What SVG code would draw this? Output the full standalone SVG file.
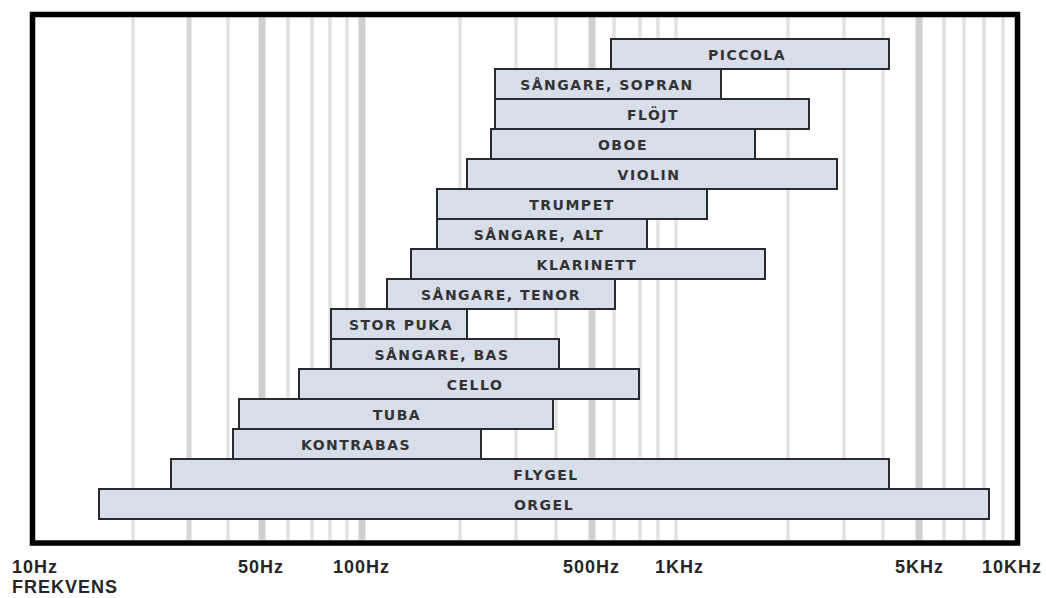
<svg xmlns="http://www.w3.org/2000/svg" width="1046" height="598" viewBox="0 0 1046 598">
<style>
.g1{stroke:#e2e2e2;stroke-width:3.5}
.g2{stroke:#d6d6d6;stroke-width:5}
.g3{stroke:#cfcfcf;stroke-width:7}
.bar{fill:#d7dde9;stroke:#262a31;stroke-width:2}
.bl{font-family:"DejaVu Sans",sans-serif;font-weight:bold;font-size:14px;letter-spacing:1.5px;fill:#333;text-anchor:middle}
.ax{font-family:"Liberation Sans",Arial,sans-serif;font-weight:bold;font-size:18px;letter-spacing:1px;fill:#262626}
</style>
<rect width="1046" height="598" fill="#fff"/>
<g id="grid">
<g class="g1">
<line x1="133" y1="17" x2="133" y2="540"/>
<line x1="228" y1="17" x2="228" y2="540"/>
<line x1="288" y1="17" x2="288" y2="540"/>
<line x1="312" y1="17" x2="312" y2="540"/>
<line x1="330" y1="17" x2="330" y2="540"/>
<line x1="347" y1="17" x2="347" y2="540"/>
<line x1="460" y1="17" x2="460" y2="540"/>
<line x1="516" y1="17" x2="516" y2="540"/>
<line x1="556" y1="17" x2="556" y2="540"/>
<line x1="614" y1="17" x2="614" y2="540"/>
<line x1="640" y1="17" x2="640" y2="540"/>
<line x1="658" y1="17" x2="658" y2="540"/>
<line x1="676" y1="17" x2="676" y2="540"/>
<line x1="788" y1="17" x2="788" y2="540"/>
<line x1="844" y1="17" x2="844" y2="540"/>
<line x1="883" y1="17" x2="883" y2="540"/>
<line x1="944" y1="17" x2="944" y2="540"/>
<line x1="964" y1="17" x2="964" y2="540"/>
<line x1="984" y1="17" x2="984" y2="540"/>
<line x1="1003" y1="17" x2="1003" y2="540"/>
</g>
<line class="g2" x1="189" y1="17" x2="189" y2="540"/>
<g class="g3">
<line x1="262" y1="17" x2="262" y2="540"/>
<line x1="362" y1="17" x2="362" y2="540"/>
<line x1="592" y1="17" x2="592" y2="540"/>
<line x1="919" y1="17" x2="919" y2="540"/>
</g>
</g>
<rect id="frame" x="32.5" y="14.5" width="985" height="528.5" fill="none" stroke="#000" stroke-width="5.5"/>
<g id="connectors"></g>
<g id="piccola"><rect class="bar" x="611" y="39" width="278" height="30"/><text class="bl" x="747" y="60">PICCOLA</text></g>
<g id="sopran"><rect class="bar" x="495" y="69" width="226" height="30"/><text class="bl" x="607" y="90">SÅNGARE, SOPRAN</text></g>
<g id="flojt"><rect class="bar" x="495" y="99" width="314" height="30"/><text class="bl" x="653" y="120">FLÖJT</text></g>
<g id="oboe"><rect class="bar" x="491" y="129" width="264" height="30"/><text class="bl" x="623" y="150">OBOE</text></g>
<g id="violin"><rect class="bar" x="467" y="159" width="370" height="30"/><text class="bl" x="649" y="180">VIOLIN</text></g>
<g id="trumpet"><rect class="bar" x="437" y="189" width="270" height="30"/><text class="bl" x="572" y="210">TRUMPET</text></g>
<g id="alt"><rect class="bar" x="437" y="219" width="210" height="30"/><text class="bl" x="539" y="240">SÅNGARE, ALT</text></g>
<g id="klarinett"><rect class="bar" x="411" y="249" width="354" height="30"/><text class="bl" x="587" y="270">KLARINETT</text></g>
<g id="tenor"><rect class="bar" x="387" y="279" width="228" height="30"/><text class="bl" x="501" y="300">SÅNGARE, TENOR</text></g>
<g id="storpuka"><rect class="bar" x="331" y="309" width="136" height="30"/><text class="bl" x="401" y="330">STOR PUKA</text></g>
<g id="bas"><rect class="bar" x="331" y="339" width="228" height="30"/><text class="bl" x="442" y="360">SÅNGARE, BAS</text></g>
<g id="cello"><rect class="bar" x="299" y="369" width="340" height="30"/><text class="bl" x="475" y="390">CELLO</text></g>
<g id="tuba"><rect class="bar" x="239" y="399" width="314" height="30"/><text class="bl" x="397" y="420">TUBA</text></g>
<g id="kontrabas"><rect class="bar" x="233" y="429" width="248" height="30"/><text class="bl" x="356" y="450">KONTRABAS</text></g>
<g id="flygel"><rect class="bar" x="171" y="459" width="718" height="30"/><text class="bl" x="546" y="480">FLYGEL</text></g>
<g id="orgel"><rect class="bar" x="99" y="489" width="890" height="30"/><text class="bl" x="544" y="510">ORGEL</text></g>
<g id="axis">
<text class="ax" x="12" y="573">10Hz</text>
<text class="ax" x="238" y="573">50Hz</text>
<text class="ax" x="333" y="573">100Hz</text>
<text class="ax" x="563" y="573">500Hz</text>
<text class="ax" x="655" y="573">1KHz</text>
<text class="ax" x="895" y="573">5KHz</text>
<text class="ax" x="982" y="573">10KHz</text>
<text class="ax" x="12" y="593">FREKVENS</text>
</g>
</svg>
